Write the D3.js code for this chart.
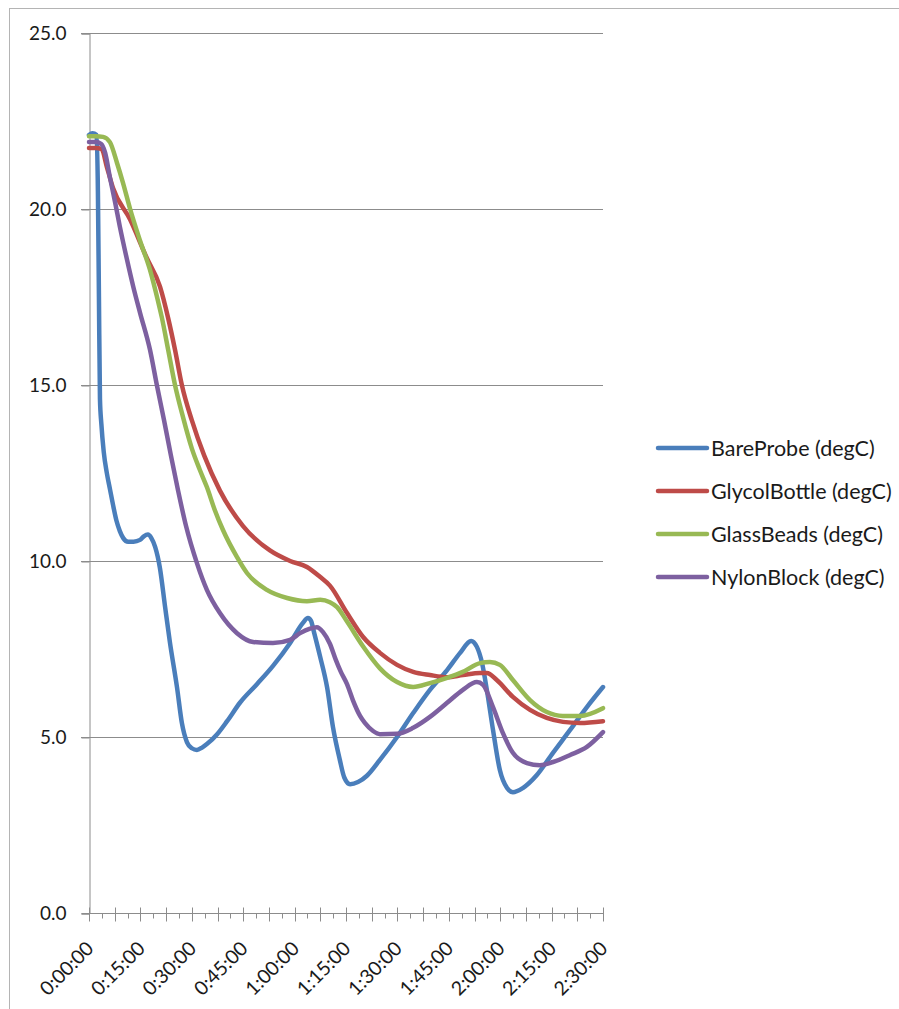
<!DOCTYPE html>
<html>
<head>
<meta charset="utf-8">
<script src="https://cdn.jsdelivr.net/npm/d3@7"></script>
<style>
  html, body { margin: 0; padding: 0; background: #fff; }
  svg { display: block; }
  text { font-family: Lato, "Open Sans", sans-serif; fill: #1a1a1a; }
</style>
</head>
<body>
<svg id="chart" width="899" height="1009"></svg>
<script>
// Elapsed time in minutes, temperature in degC
const bareProbe = [
  [0,22.1],[1,22.15],[2.2,22.1],[2.6,20.5],[2.9,17.5],[3.2,14.6],[3.6,13.9],[4.3,13.1],
  [5.2,12.5],[6.1,12.05],[7.0,11.6],[8.0,11.15],[9.0,10.85],[10,10.65],[11.4,10.55],
  [13,10.55],[14.9,10.6],[16,10.7],[17.2,10.75],[18.2,10.65],[19.3,10.4],[20.7,9.8],
  [22.2,8.7],[23.6,7.7],[25.7,6.4],[27.1,5.4],[28.6,4.85],[30,4.68],[31.5,4.63],
  [33,4.7],[34.4,4.8],[37.4,5.08],[40.3,5.45],[44.1,5.98],[49,6.5],[53.7,7.02],
  [58.7,7.67],[62.4,8.24],[63.9,8.38],[64.8,8.3],[65.6,8.0],[67.4,7.3],[69.5,6.4],
  [71.2,5.28],[73.2,4.35],[74.5,3.85],[76.2,3.66],[78.5,3.72],[81.1,3.9],[84.9,4.35],
  [89.9,5.0],[94.6,5.68],[99.5,6.34],[104.5,6.9],[108.3,7.39],[111.5,7.73],[113.2,7.56],
  [114.7,7.1],[116.1,6.34],[117.9,5.2],[119.9,4.06],[122,3.55],[123.7,3.43],
  [126.6,3.55],[130.7,3.92],[135.4,4.55],[140.4,5.2],[145.3,5.85],[150,6.42]
];
const glycolBottle = [
  [0,21.73],[2,21.73],[3.7,21.7],[5.2,21.2],[7.0,20.6],[12,19.7],[16.9,18.6],
  [20.7,17.8],[23.1,16.9],[25.1,16.0],[27.1,15.0],[30,14.0],[33.6,13.0],[38.2,12.0],
  [44.9,11.0],[52.8,10.3],[58.7,10.0],[63.6,9.83],[67.4,9.55],[70.3,9.3],[75.3,8.52],
  [80,7.84],[84.9,7.39],[89.9,7.05],[94.6,6.85],[99.5,6.76],[104.5,6.7],[109.1,6.76],
  [114.1,6.82],[116.1,6.82],[119,6.62],[123.7,6.14],[128.7,5.77],[133.6,5.54],
  [138.3,5.43],[143.3,5.4],[150,5.45]
];
const glassBeads = [
  [0,22.07],[2,22.07],[4.1,22.05],[6.1,21.9],[8.2,21.3],[9.9,20.75],[12,20.0],
  [14.9,19.1],[17.8,18.27],[20.1,17.4],[21.3,16.9],[23.1,16.0],[25.1,15.0],[27.4,14.1],
  [30,13.2],[32.3,12.6],[34.4,12.1],[36.7,11.45],[39.1,10.88],[43.2,10.11],[46.1,9.66],
  [51.9,9.18],[57.8,8.95],[63.6,8.86],[67.5,8.9],[70.3,8.83],[72.4,8.69],[75.3,8.28],
  [80,7.57],[84.9,6.95],[89.9,6.56],[94.6,6.42],[99.5,6.53],[104.5,6.68],[109.1,6.85],
  [114.1,7.1],[117,7.13],[119.9,7.05],[123.7,6.62],[128.7,6.05],[133.6,5.71],
  [138.3,5.6],[143.3,5.6],[150,5.82]
];
const nylonBlock = [
  [0,21.9],[2,21.9],[3.5,21.85],[4.7,21.6],[6.1,20.9],[7.6,20.2],[9,19.5],[11,18.6],
  [12.9,17.8],[14.9,17.05],[17.8,16.0],[19.8,15.0],[21.9,14.0],[23.9,13.0],[26,12.0],
  [28.3,11.0],[31.5,9.94],[34.4,9.18],[38.2,8.52],[43.2,7.95],[47.9,7.7],[53.7,7.67],
  [58.7,7.76],[61.6,7.95],[64.5,8.08],[66.5,8.12],[68.3,7.98],[70.3,7.65],[72,7.2],
  [73.5,6.85],[75.3,6.5],[77,6.05],[79.1,5.6],[80.5,5.4],[82.9,5.17],[84.9,5.08],
  [89.9,5.09],[94.6,5.26],[99.5,5.57],[104.5,5.97],[109.1,6.34],[113.2,6.56],[115,6.48],
  [117.9,5.85],[120.8,5.11],[123.7,4.55],[127.8,4.26],[131.6,4.2],[135.4,4.29],
  [140.4,4.49],[145.3,4.72],[150,5.14]
];

const seriesNames = ["BareProbe (degC)", "GlycolBottle (degC)", "GlassBeads (degC)", "NylonBlock (degC)"];
const seriesColors = ["#4a7ebb", "#be4b48", "#98b954", "#7d60a0"];
const seriesData = [bareProbe, glycolBottle, glassBeads, nylonBlock];

const yTicks = [0, 5, 10, 15, 20, 25];
const xLabelMinutes = [0, 15, 30, 45, 60, 75, 90, 105, 120, 135, 150];
const xLabels = ["0:00:00", "0:15:00", "0:30:00", "0:45:00", "1:00:00", "1:15:00",
                 "1:30:00", "1:45:00", "2:00:00", "2:15:00", "2:30:00"];

const svg = d3.select("#chart");
const plot = { left: 89, right: 603, top: 33, bottom: 913 };

const x = d3.scaleLinear().domain([0, 150]).range([plot.left, plot.right]);
const y = d3.scaleLinear().domain([0, 25]).range([plot.bottom, plot.top]);

// chart frame
svg.append("rect")
  .attr("x", 9.5).attr("y", 8.5)
  .attr("width", 1000).attr("height", 1100)
  .attr("fill", "none").attr("stroke", "#b4b4b4").attr("stroke-width", 1);

const gridColor = "#8c8c8c";

// horizontal gridlines
svg.append("g")
  .selectAll("line")
  .data(yTicks.filter(d => d > 0))
  .join("line")
  .attr("x1", plot.left - 8).attr("x2", plot.right)
  .attr("y1", d => Math.round(y(d)) + 0.5).attr("y2", d => Math.round(y(d)) + 0.5)
  .attr("stroke", gridColor).attr("stroke-width", 1);

// y axis
const yAxis = d3.axisLeft(y).tickValues(yTicks).tickSize(8).tickPadding(15)
  .tickFormat(d3.format(".1f"));
const yg = svg.append("g").attr("transform", `translate(${plot.left + 0.5},0.5)`).call(yAxis);
yg.select(".domain").attr("stroke", gridColor);
yg.selectAll(".tick line").attr("stroke", gridColor);
yg.selectAll(".tick text").style("font-size", "19px").attr("fill", "#1a1a1a")
  .style("font-family", "Lato, sans-serif");

// x axis: minor ticks every 3.75 min, major ticks (crossing) every 7.5 min
const minorTicks = d3.range(0, 41).map(i => i * 3.75);
const xg = svg.append("g").attr("transform", "translate(0.5,0.5)");
xg.append("line")
  .attr("x1", plot.left - 8).attr("x2", plot.right + 0.5)
  .attr("y1", plot.bottom).attr("y2", plot.bottom)
  .attr("stroke", gridColor);
xg.selectAll("line.tk")
  .data(minorTicks)
  .join("line")
  .attr("class", "tk")
  .attr("x1", d => Math.round(x(d))).attr("x2", d => Math.round(x(d)))
  .attr("y1", (d, i) => i % 2 === 0 ? plot.bottom - 6 : plot.bottom)
  .attr("y2", (d, i) => i % 2 === 0 ? plot.bottom + 8 : plot.bottom + 5)
  .attr("stroke", gridColor);

svg.append("g")
  .selectAll("text")
  .data(xLabelMinutes)
  .join("text")
  .attr("transform", d => `translate(${x(d) + 1},945) rotate(-45)`)
  .attr("text-anchor", "end")
  .attr("dy", "0.35em")
  .style("font-size", "19.5px")
  .text((d, i) => xLabels[i]);

// series lines
const line = d3.line()
  .x(d => x(d[0]))
  .y(d => y(d[1]))
  .curve(d3.curveMonotoneX);

svg.append("g")
  .selectAll("path")
  .data(seriesData)
  .join("path")
  .attr("d", line)
  .attr("fill", "none")
  .attr("stroke", (d, i) => seriesColors[i])
  .attr("stroke-width", 4.5)
  .attr("stroke-linejoin", "round")
  .attr("stroke-linecap", "round");

// legend
const legend = svg.append("g").attr("transform", "translate(658,448)");
const rows = legend.selectAll("g")
  .data(seriesNames)
  .join("g")
  .attr("transform", (d, i) => `translate(0,${i * 43})`);
rows.append("line")
  .attr("x1", 0).attr("x2", 49)
  .attr("stroke", (d, i) => seriesColors[i])
  .attr("stroke-width", 4.5)
  .attr("stroke-linecap", "round");
rows.append("text")
  .attr("x", 53)
  .attr("dy", "0.35em")
  .style("font-size", "21.5px")
  .text(d => d);
</script>
</body>
</html>
